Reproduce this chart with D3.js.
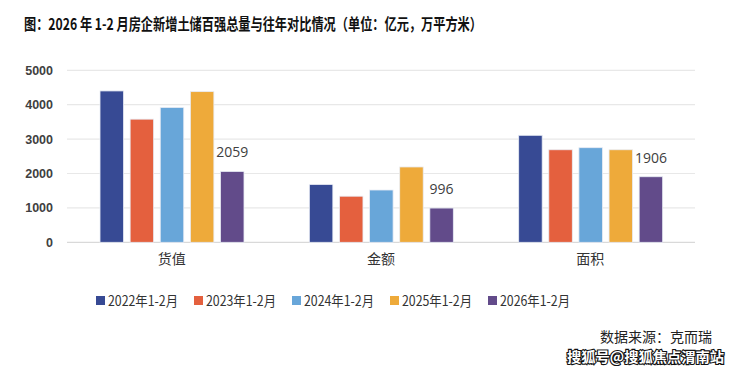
<!DOCTYPE html>
<html><head><meta charset="utf-8">
<script src="https://cdn.jsdelivr.net/npm/d3@7"></script>
<style>body{margin:0;background:#fff}svg{display:block}</style>
</head><body><svg id="c" width="740" height="371"></svg>
<script>
const categories = ["货值", "金额", "面积"];
const seriesNames = ["2022年1-2月", "2023年1-2月", "2024年1-2月", "2025年1-2月", "2026年1-2月"];
const s2022 = [4400, 1680, 3110];
const s2023 = [3580, 1340, 2690];
const s2024 = [3920, 1520, 2750];
const s2025 = [4380, 2190, 2690];
const s2026 = [2059, 996, 1906];
const yTicks = [0, 1000, 2000, 3000, 4000, 5000];
const colors = ["#374A94", "#E4603E", "#68A6D9", "#EEAA3A", "#624B8A"];
const series = [s2022, s2023, s2024, s2025, s2026];

const svg = d3.select("#c");
const cjk = "'Noto Sans CJK SC','Noto Sans',sans-serif";
const x0 = d3.scaleBand().domain(categories).range([67, 695]).paddingInner(0).paddingOuter(0);
const x1 = d3.scaleBand().domain(seriesNames).range([30, 180]).paddingInner(0.22).paddingOuter(0.1);
const y = d3.scaleLinear().domain([0, 5000]).range([242.3, 70.3]);

// title
svg.append("text").attr("x", 24).attr("y", 30)
  .attr("font-family", "'Noto Sans CJK SC',sans-serif").attr("font-weight", "bold")
  .attr("font-size", 16).attr("fill", "#111")
  .attr("textLength", 458).attr("lengthAdjust", "spacingAndGlyphs")
  .text("图：2026 年 1-2 月房企新增土储百强总量与往年对比情况（单位：亿元，万平方米）");

// grid
svg.append("g").selectAll("line").data(yTicks).join("line")
  .attr("x1", 67).attr("x2", 695).attr("y1", d => y(d)).attr("y2", d => y(d))
  .attr("stroke", d => d === 0 ? "#d9d9d9" : "#e8e8e8").attr("stroke-width", 1.2);

// y axis labels
const yAxis = d3.axisLeft(y).tickValues(yTicks).tickFormat(d3.format("d")).tickSize(0).tickPadding(0);
const ga = svg.append("g").attr("transform", "translate(53,0)").call(yAxis);
ga.select(".domain").remove();
ga.selectAll("text").attr("font-family", "'Liberation Sans',Arial,sans-serif")
  .attr("font-size", 12.5).attr("font-weight", "bold").attr("fill", "#404040");

// bars
const groups = svg.append("g").selectAll("g").data(categories).join("g")
  .attr("transform", d => `translate(${x0(d)},0)`);
groups.selectAll("rect").data((c, ci) => seriesNames.map((s, si) => ({s, si, v: series[si][ci]})))
  .join("rect")
  .attr("x", d => x1(d.s)).attr("width", x1.bandwidth())
  .attr("y", d => y(d.v)).attr("height", d => y(0) - y(d.v))
  .attr("fill", d => colors[d.si]).attr("stroke", "#e8ecf4").attr("stroke-width", 0.8);

// data labels on 2026
groups.append("text")
  .attr("x", (c) => x1(seriesNames[4]) + x1.bandwidth() / 2)
  .attr("y", (c, ci) => y(s2026[ci]) - 14)
  .attr("text-anchor", "middle")
  .attr("font-family", "'Open Sans','Noto Sans',sans-serif").attr("font-size", 14).attr("fill", "#404040")
  .text((c, ci) => s2026[ci]);

// category axis
const xAxis = d3.axisBottom(x0).tickSize(0).tickPadding(0);
const gx = svg.append("g").attr("transform", "translate(0,253)").call(xAxis);
gx.select(".domain").remove();
gx.selectAll("text").attr("font-family", cjk).attr("font-size", 14).attr("fill", "#333").attr("dy", "0.75em");

// legend
const lx = d3.scalePoint().domain(seriesNames).range([96, 488]);
const lg = svg.append("g").selectAll("g").data(seriesNames).join("g")
  .attr("transform", d => `translate(${lx(d)},301)`);
lg.append("rect").attr("x", 0).attr("y", -5).attr("width", 9).attr("height", 9)
  .attr("fill", (d, i) => colors[i]);
lg.append("text").attr("x", 12).attr("y", 0).attr("dy", "0.35em")
  .attr("font-family", cjk).attr("font-size", 14).attr("fill", "#333")
  .attr("textLength", 70).attr("lengthAdjust", "spacingAndGlyphs")
  .text(d => d);

// source
svg.append("text").attr("x", 712).attr("y", 342).attr("text-anchor", "end")
  .attr("font-family", cjk).attr("font-size", 14).attr("fill", "#222")
  .text("数据来源：克而瑞");
svg.append("text").attr("x", 724).attr("y", 362).attr("text-anchor", "end")
  .attr("font-family", cjk).attr("font-size", 14).attr("font-weight", "bold")
  .attr("fill", "#fff").attr("stroke", "#111").attr("stroke-width", 2.2).attr("paint-order", "stroke")
  .attr("textLength", 157).attr("lengthAdjust", "spacingAndGlyphs")
  .text("搜狐号@搜狐焦点渭南站");
</script></body></html>
